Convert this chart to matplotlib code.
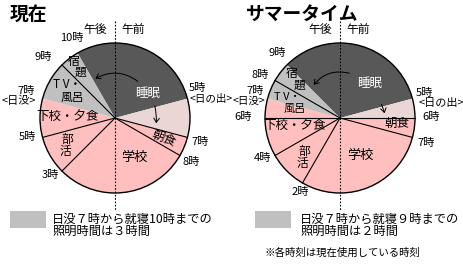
import matplotlib
matplotlib.use("Agg")
import matplotlib.pyplot as plt
from matplotlib.patches import Circle, FancyArrowPatch, Rectangle
import numpy as np

plt.rcParams['font.family'] = ['Noto Sans CJK JP', 'DejaVu Sans']

W, H = 463, 266
DARK = '#585858'
GRAY = '#c0c0c0'
PINK = '#ffbfbf'
LPINK = '#ebd6d6'

# ---- data ----
# present schedule (start at 22h, clockwise), hours per segment
now_start = 22
now_hours = [7, 2, 1, 7, 2, 2, 2, 1]
now_colors = [DARK, LPINK, PINK, PINK, PINK, PINK, GRAY, GRAY]
now_lines = [7, 8, 15, 17, 21]

# summer time schedule (start at 21h)
sum_start = 21
sum_hours = [8, 1, 1, 7, 2, 2, 1, 1, 1]
sum_colors = [DARK, LPINK, PINK, PINK, PINK, PINK, PINK, GRAY, GRAY]
sum_lines = [6, 7, 14, 16, 18, 20]

fig = plt.figure(figsize=(W / 100, H / 100), dpi=100)
ax = fig.add_axes([0, 0, 1, 1])


def Y(y):
    return H - y


def T(x, y, s, size=8, color='black', **kw):
    ax.text(x, Y(y), s, fontsize=size, color=color, ha='center', va='center', **kw)


def draw_clock(cx, cy, r, start, hours, colors, lines):
    ax.pie(hours, colors=colors, startangle=90 - start * 15, counterclock=False,
           center=(cx, Y(cy)), radius=r, wedgeprops=dict(linewidth=0), frame=True)
    for h in lines:
        a = np.deg2rad(90 - h * 15)
        ax.plot([cx, cx + r * np.cos(a)], [Y(cy), Y(cy) + r * np.sin(a)],
                color='black', lw=0.8, zorder=3)
    ax.add_patch(Circle((cx, Y(cy)), r, fill=False, ec='black', lw=1.0, zorder=4))
    ax.plot([cx, cx], [Y(21), Y(211)], color='black', lw=0.8, ls=(0, (1.5, 1.5)), zorder=5)
    T(cx - 20, 29, '午後', 8.5)
    T(cx + 18, 29, '午前', 8.5)


draw_clock(115, 118, 75, now_start, now_hours, now_colors, now_lines)
draw_clock(340, 118, 75, sum_start, sum_hours, sum_colors, sum_lines)
ax.set_xlim(0, W)
ax.set_ylim(0, H)
ax.set_aspect('equal')
ax.axis('off')

# titles
ax.text(10, Y(14), '現在', fontsize=13.5, fontweight='bold', ha='left', va='center')
ax.text(246, Y(14), 'サマータイム', fontsize=13.5, fontweight='bold', ha='left', va='center')

# present labels
TS = 8
T(72, 38, '10時', TS)
T(43, 57, '9時', TS)
T(26, 91, '7時', TS)
T(19, 101, '<日没>', TS)
T(27, 137, '5時', TS)
T(50, 175, '3時', TS)
T(191, 162, '8時', TS)
T(200, 142, '7時', TS)
T(197, 88, '5時', TS)
T(211, 99, '<日の出>', 7.6)

IS = 8.5
T(74, 61, '宿', IS)
T(80, 72, '題', IS)
T(67, 84, 'T V・', IS)
T(72, 97, '風呂', IS)
T(67, 116, '下校・夕食', 9)
T(67, 139, '部', IS)
T(65, 152, '活', IS)
T(134, 157, '学校', 9.5)
T(164, 138, '朝食', 9, rotation=-22)
T(148, 93, '睡眠', 9, color='white')

# summer labels
T(277, 53, '9時', TS)
T(260, 75, '8時', TS)
T(255, 91, '7時', TS)
T(249, 101, '<日没>', 7.6)
T(243, 117, '6時', TS)
T(262, 158, '4時', TS)
T(300, 192, '2時', TS)
T(426, 143, '7時', TS)
T(431, 117, '6時', TS)
T(424, 93, '5時', TS)
T(441, 103, '<日の出>', TS)

T(292, 74, '宿', IS)
T(299, 85, '題', IS)
T(287, 97, 'T V・', 8)
T(295, 109, '風呂', 8)
T(294, 125, '下校・夕食', 9)
T(304, 151, '部', IS)
T(302, 164, '活', IS)
T(360, 155, '学校', 9.5)
T(397, 123, '朝食', 9)
T(370, 84, '睡眠', 9, color='white')

# arrows
def arrow(x0, y0, x1, y1, rad):
    ax.add_patch(FancyArrowPatch((x0, Y(y0)), (x1, Y(y1)), connectionstyle=f'arc3,rad={rad}',
                                 arrowstyle='->,head_length=3,head_width=2', lw=0.7,
                                 color='black', zorder=6))

arrow(140, 83, 93, 80, 0.35)
arrow(154, 103, 156, 126, -0.1)
arrow(352, 74, 312, 87, 0.35)
arrow(380, 102, 385, 116, -0.1)

# legends
LS = 8.8
ax.add_patch(Rectangle((10, Y(228)), 36, 17, fc=GRAY, ec='none'))
ax.text(52, Y(219), '日没７時から就寝10時までの', fontsize=LS, ha='left', va='center')
ax.text(52, Y(231), '照明時間は３時間', fontsize=LS, ha='left', va='center')
ax.add_patch(Rectangle((255, Y(228)), 36, 17, fc=GRAY, ec='none'))
ax.text(300, Y(219), '日没７時から就寝９時までの', fontsize=LS, ha='left', va='center')
ax.text(300, Y(231), '照明時間は２時間', fontsize=LS, ha='left', va='center')
ax.text(264, Y(253), '※各時刻は現在使用している時刻', fontsize=7.5, ha='left', va='center')

fig.savefig('out.png', dpi=100)
